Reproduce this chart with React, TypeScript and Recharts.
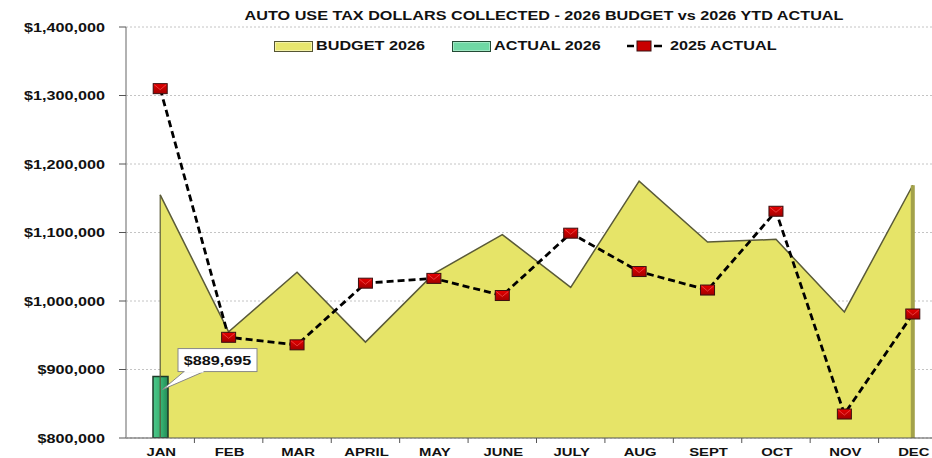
import React from 'react';
import { ComposedChart, Area, Bar, Line, XAxis, YAxis, CartesianGrid, LabelList, ReferenceLine } from 'recharts';

const months = ['JAN', 'FEB', 'MAR', 'APRIL', 'MAY', 'JUNE', 'JULY', 'AUG', 'SEPT', 'OCT', 'NOV', 'DEC'];
const budget2026 = [1155000, 955000, 1042000, 940000, 1040000, 1097000, 1020000, 1175000, 1086000, 1090000, 984000, 1169000];
const actual2026: (number | null)[] = [889695, null, null, null, null, null, null, null, null, null, null, null];
const actual2025 = [1310000, 947000, 936000, 1026000, 1033000, 1008000, 1099000, 1043000, 1016000, 1131000, 835000, 981000];
const yTicks = [800000, 900000, 1000000, 1100000, 1200000, 1300000, 1400000];

const data = months.map((m, i) => ({
  month: m,
  budget: budget2026[i],
  actual: actual2026[i],
  prior: actual2025[i],
}));

const CHART_W = 960;
const CHART_H = 458;
const MARGIN = { top: 27, right: 13, bottom: 0, left: 0 };
const Y_W = 126;
const X_H = 20;
const PLOT_W = CHART_W - MARGIN.left - MARGIN.right - Y_W;
const BAND = PLOT_W / months.length;
const PLOT_BOTTOM = CHART_H - MARGIN.bottom - X_H;
const SX = 1.35;

const FONT = '"Liberation Sans", Arial, Helvetica, sans-serif';

const money = (v: number) => '$' + v.toLocaleString('en-US');

const XTick = (props: any) => {
  const { x, payload } = props;
  return (
    <g>
      <line x1={x + BAND / 2} x2={x + BAND / 2} y1={PLOT_BOTTOM} y2={PLOT_BOTTOM + 5} stroke="#555" strokeWidth={1} />
      <text
        transform={`translate(${x + 1},${PLOT_BOTTOM + 18}) scale(${SX},1)`}
        textAnchor="middle"
        fontFamily={FONT}
        fontWeight="bold"
        fontSize={11}
        fill="#111"
      >
        {payload.value}
      </text>
    </g>
  );
};

const YTick = (props: any) => {
  const { x, y, payload } = props;
  return (
    <text
      transform={`translate(${x - 12},${y + 4.5}) scale(${SX},1)`}
      textAnchor="end"
      fontFamily={FONT}
      fontWeight="bold"
      fontSize={12}
      fill="#111"
    >
      {money(payload.value)}
    </text>
  );
};

const Marker = (props: any) => {
  const { cx, cy } = props;
  if (cx == null || cy == null) return null;
  return (
    <g>
      <rect x={cx - 7} y={cy - 5} width={14} height={10} fill="url(#markerGrad)" stroke="#3a1010" strokeWidth={1} />
      <path d={`M${cx - 6},${cy - 4} L${cx},${cy + 1} L${cx + 6},${cy - 4}`} fill="none" stroke="#ff6a6a" strokeWidth={0.8} opacity={0.7} />
    </g>
  );
};

const Callout = (props: any) => {
  const { x, y, width, value } = props;
  if (value == null) return null;
  const cx = x + width / 2;
  const bx = x + width + 10;
  const by = y - 28;
  const bw = 79;
  const bh = 23;
  return (
    <g>
      <path
        d={`M${bx + 6},${by + bh} L${cx + 2},${y + 13} L${bx + 26},${by + bh} Z`}
        fill="#fff"
        stroke="#888"
        strokeWidth={1}
      />
      <rect x={bx} y={by} width={bw} height={bh} fill="#fff" stroke="#888" strokeWidth={1} />
      <rect x={bx + 6.5} y={by + bh - 1} width={19} height={2} fill="#fff" />
      <text
        transform={`translate(${bx + bw / 2},${by + bh / 2 + 4.5}) scale(${SX},1)`}
        textAnchor="middle"
        fontFamily={FONT}
        fontWeight="bold"
        fontSize={12}
        fill="#111"
      >
        {money(value)}
      </text>
    </g>
  );
};

const legendText: React.CSSProperties = {
  position: 'absolute',
  top: 38,
  fontFamily: FONT,
  fontWeight: 'bold',
  fontSize: 12,
  color: '#111',
  lineHeight: '16px',
  whiteSpace: 'nowrap',
  transform: `scaleX(${SX})`,
  transformOrigin: 'left center',
};

export default function App() {
  return (
    <div style={{ position: 'absolute', left: 0, top: 0, width: 932, height: 458, overflow: 'hidden', background: '#fff' }}>
      <div
        style={{
          position: 'absolute',
          top: 8,
          left: 544 - 300,
          width: 600,
          textAlign: 'center',
          fontFamily: FONT,
          fontWeight: 'bold',
          fontSize: 12,
          color: '#111',
          lineHeight: '16px',
          whiteSpace: 'nowrap',
          transform: `scaleX(${SX})`,
          transformOrigin: 'center center',
        }}
      >
        AUTO USE TAX DOLLARS COLLECTED - 2026 BUDGET vs 2026 YTD ACTUAL
      </div>
      <div style={{ position: 'absolute', left: 274, top: 41, width: 37, height: 9, background: '#e8e66e', border: '1px solid #555533', boxShadow: 'inset 0 0 0 1px #f4f2a8' }} />
      <div style={{ ...legendText, left: 316 }}>BUDGET 2026</div>
      <div style={{ position: 'absolute', left: 452, top: 41, width: 37, height: 9, background: '#6fd8a4', border: '1px solid #234a34', boxShadow: 'inset 0 0 0 1px #9fe8c4' }} />
      <div style={{ ...legendText, left: 494 }}>ACTUAL 2026</div>
      <svg style={{ position: 'absolute', left: 624, top: 38 }} width={44} height={16}>
        <line x1={3} x2={10} y1={8} y2={8} stroke="#000" strokeWidth={2.5} />
        <line x1={30} x2={38} y1={8} y2={8} stroke="#000" strokeWidth={2.5} />
        <rect x={13} y={3} width={14} height={10} fill="#c80000" stroke="#3a1010" />
      </svg>
      <div style={{ ...legendText, left: 670 }}>2025 ACTUAL</div>

      <div style={{ position: 'absolute', left: 0, top: 0 }}>
        <ComposedChart width={CHART_W} height={CHART_H} data={data} margin={MARGIN}>
          <defs>
            <linearGradient id="markerGrad" x1="0" y1="0" x2="0" y2="1">
              <stop offset="0%" stopColor="#e80000" />
              <stop offset="100%" stopColor="#a00000" />
            </linearGradient>
            <linearGradient id="barGrad" x1="0" y1="0" x2="1" y2="0">
              <stop offset="0%" stopColor="#4cc88a" />
              <stop offset="60%" stopColor="#35b070" />
              <stop offset="100%" stopColor="#238a55" />
            </linearGradient>
          </defs>
          <CartesianGrid vertical={false} stroke="#c4c4c4" strokeDasharray="2 2" />
          <XAxis
            dataKey="month"
            height={X_H}
            tickLine={false}
            axisLine={{ stroke: '#555', strokeWidth: 1 }}
            tick={<XTick />}
            interval={0}
          />
          <YAxis
            width={Y_W}
            domain={[800000, 1400000]}
            ticks={yTicks}
            tickSize={7}
            tickLine={{ stroke: '#555' }}
            axisLine={{ stroke: '#999', strokeWidth: 1.5 }}
            tick={<YTick />}
            allowDataOverflow
          />
          <Area
            type="linear"
            dataKey="budget"
            fill="#e6e468"
            fillOpacity={1}
            stroke="#5a5a38"
            strokeWidth={1.5}
            isAnimationActive={false}
            dot={false}
            activeDot={false}
          />
          <ReferenceLine
            segment={[{ x: 'DEC', y: 800000 }, { x: 'DEC', y: budget2026[11] }]}
            stroke="#a3a24a"
            strokeWidth={4}
          />
          <ReferenceLine
            segment={[{ x: 'JAN', y: 800000 }, { x: 'JAN', y: budget2026[0] }]}
            stroke="#5a5a38"
            strokeWidth={1.2}
          />
          <Bar dataKey="actual" barSize={15} fill="url(#barGrad)" stroke="#1d3a28" strokeWidth={1.5} isAnimationActive={false}>
            <LabelList dataKey="actual" content={<Callout />} />
          </Bar>
          <Line
            type="linear"
            dataKey="prior"
            stroke="#000"
            strokeWidth={2.8}
            strokeDasharray="7 4"
            dot={<Marker />}
            activeDot={false}
            isAnimationActive={false}
          />
        </ComposedChart>
      </div>
    </div>
  );
}
